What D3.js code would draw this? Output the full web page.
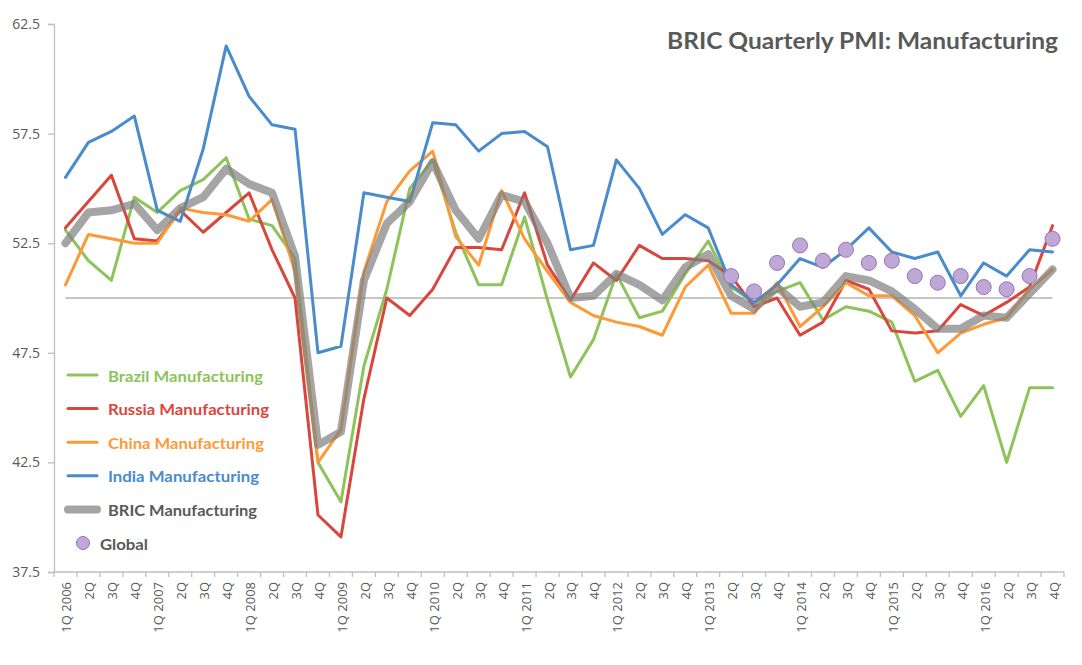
<!DOCTYPE html>
<html>
<head>
<meta charset="utf-8">
<script src="https://cdn.jsdelivr.net/npm/d3@7"></script>
<style>
  html, body { margin: 0; padding: 0; background: #fff; }
  svg { display: block; font-family: "Open Sans", "Liberation Sans", sans-serif; }
</style>
</head>
<body>
<svg id="chart" width="1082" height="665"></svg>
<script>
const quarters = ["1Q 2006","2Q","3Q","4Q","1Q 2007","2Q","3Q","4Q","1Q 2008","2Q","3Q","4Q",
  "1Q 2009","2Q","3Q","4Q","1Q 2010","2Q","3Q","4Q","1Q 2011","2Q","3Q","4Q",
  "1Q 2012","2Q","3Q","4Q","1Q 2013","2Q","3Q","4Q","1Q 2014","2Q","3Q","4Q",
  "1Q 2015","2Q","3Q","4Q","1Q 2016","2Q","3Q","4Q"];

const brazil = [53.1,51.7,50.8,54.6,53.9,54.9,55.4,56.4,53.6,53.3,51.8,42.5,
  40.7,46.9,50.4,55.0,56.3,53.0,50.6,50.6,53.7,49.9,46.4,48.1,
  51.1,49.1,49.4,51.1,52.6,50.5,49.8,50.3,50.7,49.0,49.6,49.4,
  48.9,46.2,46.7,44.6,46.0,42.5,45.9,45.9];

const russia = [53.2,54.4,55.6,52.7,52.6,54.0,53.0,53.9,54.8,52.2,50.0,40.1,
  39.1,45.4,50.0,49.2,50.4,52.3,52.3,52.2,54.8,51.5,49.9,51.6,
  50.8,52.4,51.8,51.8,51.7,51.0,49.6,50.0,48.3,48.9,50.8,50.4,
  48.5,48.4,48.5,49.7,49.2,49.8,50.5,53.3];

const china = [50.6,52.9,52.7,52.5,52.5,54.1,53.9,53.8,53.5,54.5,51.2,42.5,
  44.0,51.2,54.4,55.8,56.7,52.8,51.5,54.9,52.7,51.2,49.8,49.2,
  48.9,48.7,48.3,50.5,51.5,49.3,49.3,50.7,48.7,49.6,50.7,50.1,
  50.1,49.2,47.5,48.4,48.8,49.1,50.4,51.3];

const india = [55.5,57.1,57.6,58.3,54.0,53.5,56.8,61.5,59.2,57.9,57.7,47.5,
  47.8,54.8,54.6,54.4,58.0,57.9,56.7,57.5,57.6,56.9,52.2,52.4,
  56.3,55.0,52.9,53.8,53.2,50.6,49.8,50.6,51.8,51.4,52.2,53.2,
  52.1,51.8,52.1,50.1,51.6,51.0,52.2,52.1];

const bric = [52.5,53.9,54.0,54.3,53.1,54.1,54.6,55.9,55.2,54.8,51.9,43.3,
  43.9,50.8,53.4,54.4,56.2,54.0,52.7,54.7,54.4,52.5,50.0,50.1,
  51.1,50.6,49.9,51.4,52.0,50.1,49.5,50.5,49.6,49.8,51.0,50.8,
  50.3,49.5,48.6,48.6,49.2,49.1,50.2,51.3];

const global = [null,null,null,null,null,null,null,null,null,null,null,null,
  null,null,null,null,null,null,null,null,null,null,null,null,
  null,null,null,null,null,51.0,50.3,51.6,52.4,51.7,52.2,51.6,
  51.7,51.0,50.7,51.0,50.5,50.4,51.0,52.7];

const threshold = 50;
const yTicks = [37.5, 42.5, 47.5, 52.5, 57.5, 62.5];

const seriesNames = ["Brazil Manufacturing","Russia Manufacturing","China Manufacturing","India Manufacturing","BRIC Manufacturing","Global"];
const title = "BRIC Quarterly PMI: Manufacturing";

// ---------- drawing ----------
const svg = d3.select("#chart");
const idx = quarters.map((q, i) => i);

const x = d3.scaleBand().domain(idx).range([54, 1064]).paddingInner(0).paddingOuter(0);
const cx = i => x(i) + x.bandwidth() / 2;
const y = d3.scaleLinear().domain([37.5, 62.5]).range([572, 24]);

const axisColor = "#bfbfbf";
const textColor = "#595959";

// Y axis
const yAxis = svg.append("g").attr("transform", "translate(54,0)")
  .call(d3.axisLeft(y).tickValues(yTicks).tickFormat(d3.format(".1f")).tickSize(6).tickPadding(8));
yAxis.select(".domain").attr("stroke", axisColor).attr("stroke-width", 1.3);
yAxis.selectAll(".tick line").attr("stroke", axisColor).attr("stroke-width", 1.3);
yAxis.selectAll(".tick text").attr("fill", textColor).attr("font-size", 14).attr("font-family", "Open Sans, sans-serif");

// X axis line
svg.append("line").attr("x1", 54).attr("x2", 1064).attr("y1", y(37.5)).attr("y2", y(37.5))
  .attr("stroke", axisColor).attr("stroke-width", 1.3);
// ticks at band boundaries
const bounds = idx.map(i => x(i)).concat([x(idx[idx.length - 1]) + x.bandwidth()]);
svg.append("g").selectAll("line").data(bounds).join("line")
  .attr("x1", d => d).attr("x2", d => d)
  .attr("y1", y(37.5)).attr("y2", y(37.5) + 5)
  .attr("stroke", axisColor).attr("stroke-width", 1.3);
// x labels
svg.append("g").selectAll("text").data(idx).join("text")
  .attr("transform", i => `translate(${cx(i) + 1},${582}) rotate(-90)`)
  .attr("text-anchor", "end")
  .attr("dominant-baseline", "central")
  .attr("fill", textColor)
  .attr("font-size", 13)
  .attr("font-family", "Open Sans, sans-serif")
  .text(i => quarters[i]);

// threshold line at 50
svg.append("line")
  .attr("x1", cx(0)).attr("x2", cx(idx.length - 1))
  .attr("y1", y(threshold)).attr("y2", y(threshold))
  .attr("stroke", "#b3b3b3").attr("stroke-width", 1.5);

const colors = {
  brazil: "#8DC359",
  russia: "#D9463E",
  china: "#FD9A38",
  india: "#4A8BCB",
  bric: "#7f7f7f",
  global: "#BFA8D6"
};

const line = d3.line().x((d, i) => cx(i)).y(d => y(d));

function drawSeries(data, color, width, opacity) {
  svg.append("path").datum(data)
    .attr("d", line)
    .attr("fill", "none")
    .attr("stroke", color)
    .attr("stroke-width", width)
    .attr("stroke-opacity", opacity)
    .attr("stroke-linejoin", "round")
    .attr("stroke-linecap", "round");
}
drawSeries(brazil, colors.brazil, 3, 1);
drawSeries(russia, colors.russia, 3, 1);
drawSeries(china, colors.china, 3, 1);
drawSeries(india, colors.india, 3, 1);
drawSeries(bric, colors.bric, 8, 0.7);

// Global dots
svg.append("g").selectAll("circle")
  .data(global.map((v, i) => ({v, i})).filter(d => d.v !== null))
  .join("circle")
  .attr("cx", d => cx(d.i)).attr("cy", d => y(d.v)).attr("r", 7.5)
  .attr("fill", colors.global).attr("stroke", "#9872B7").attr("stroke-width", 1);

// Title
svg.append("text")
  .attr("x", 1058).attr("y", 49)
  .attr("text-anchor", "end")
  .attr("fill", textColor)
  .attr("font-size", 23)
  .attr("font-weight", "bold")
  .attr("font-family", "Lato, 'Open Sans', sans-serif")
  .attr("textLength", 391).attr("lengthAdjust", "spacingAndGlyphs")
  .text(title);

// Legend
const legendItems = [
  {name: seriesNames[0], color: colors.brazil, text: colors.brazil, type: "line", w: 3, len: 155},
  {name: seriesNames[1], color: colors.russia, text: colors.russia, type: "line", w: 3, len: 161},
  {name: seriesNames[2], color: colors.china, text: colors.china, type: "line", w: 3, len: 156},
  {name: seriesNames[3], color: colors.india, text: colors.india, type: "line", w: 3, len: 151},
  {name: seriesNames[4], color: "#a5a5a5", text: textColor, type: "thick", w: 8, len: 149},
  {name: seriesNames[5], color: colors.global, text: textColor, type: "dot", w: 0, len: 48}
];
const leg = svg.append("g");
legendItems.forEach((d, k) => {
  const yy = 375 + k * 33.6;
  if (d.type === "dot") {
    leg.append("circle").attr("cx", 83).attr("cy", yy).attr("r", 6.5)
      .attr("fill", d.color).attr("stroke", "#9872B7").attr("stroke-width", 1);
    leg.append("text").attr("x", 100).attr("y", yy).attr("dominant-baseline", "central")
      .attr("fill", d.text).attr("font-size", 16).attr("font-weight", "bold")
      .attr("font-family", "Lato, 'Open Sans', sans-serif")
      .attr("textLength", d.len).attr("lengthAdjust", "spacingAndGlyphs")
      .text(d.name);
  } else {
    leg.append("line").attr("x1", 68).attr("x2", 97).attr("y1", yy).attr("y2", yy)
      .attr("stroke", d.color).attr("stroke-width", d.w).attr("stroke-linecap", "round");
    leg.append("text").attr("x", 108).attr("y", yy).attr("dominant-baseline", "central")
      .attr("fill", d.text).attr("font-size", 16).attr("font-weight", "bold")
      .attr("font-family", "Lato, 'Open Sans', sans-serif")
      .attr("textLength", d.len).attr("lengthAdjust", "spacingAndGlyphs")
      .text(d.name);
  }
});
</script>
</body>
</html>
